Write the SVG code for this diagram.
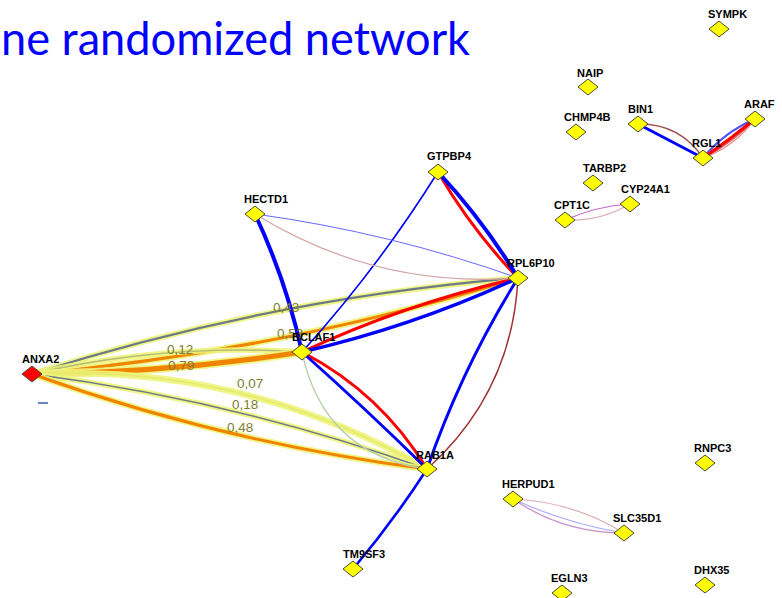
<svg xmlns="http://www.w3.org/2000/svg" xmlns:xlink="http://www.w3.org/1999/xlink" width="782" height="598" viewBox="0 0 782 598">
  <style>
    .title { font-family: Lato, "Open Sans", "Liberation Sans", sans-serif; font-size: 46px; fill: #0000ff; }
    .lbl { font-family: "Liberation Sans", Arial, sans-serif; font-weight: bold; font-size: 11px; fill: #000; }
    .elbl { font-family: "Liberation Sans", Arial, sans-serif; font-size: 13.5px; fill: #7e7e34; }
    .dia { fill: #ffff00; stroke: #4a4a30; stroke-width: 1; }
    .seed { fill: #ff0000; }
    .e { fill: none; stroke-linecap: round; }
    .halo { fill: none; stroke: #eef47a; stroke-opacity: 0.9; stroke-linecap: round; }
    .blue { stroke: #0000ff; }
    .red { stroke: #ff0000; }
    .orange { stroke: #f08400; }
    .gray { stroke: #6c7a88; }
  </style>
  <defs>
    <path id="dia" d="M-10,0 L0,-8 L10,0 L0,8 Z"/>
  </defs>

  <rect width="782" height="598" fill="#ffffff"/>

  <text class="title" x="1" y="55" textLength="469" lengthAdjust="spacingAndGlyphs">ne randomized network</text>

  <!-- connectors -->
  <g id="edges">
    <!-- ANXA2 weighted links: yellow halo with coloured core -->
    <path class="halo" stroke-width="6" d="M32,374 Q269.6,298.5 518,278"/>
    <path class="e gray" stroke-width="2.2" d="M32,374 Q269.6,298.5 518,278"/>
    <path class="halo" stroke-width="6.5" d="M32,374 Q280,351.5 518,278"/>
    <path class="e orange" stroke-width="3" d="M32,374 Q280,351.5 518,278"/>
    <path class="halo" stroke-width="5.5" d="M32,374 Q165.4,343.1 302,352"/>
    <path class="e" stroke="#b4bc78" stroke-width="1.5" d="M32,374 Q165.4,343.1 302,352"/>
    <path class="halo" stroke-width="8.5" d="M32,374 Q167.8,373 302,352"/>
    <path class="e orange" stroke-width="5" d="M32,374 Q167.8,373 302,352"/>
    <path class="halo" stroke-width="6.5" d="M32,374 Q243.5,363.2 427,469"/>
    <path class="e" stroke="#e6ec70" stroke-width="2" d="M32,374 Q243.5,363.2 427,469"/>
    <path class="halo" stroke-width="5.5" d="M32,374 Q234.6,400.1 427,469"/>
    <path class="e gray" stroke-width="1.6" d="M32,374 Q234.6,400.1 427,469"/>
    <path class="halo" stroke-width="6.5" d="M32,374 Q224.4,442.9 427,469"/>
    <path class="e orange" stroke-width="3" d="M32,374 Q224.4,442.9 427,469"/>

    <!-- BCLAF1 -->
    <path class="e blue" stroke-width="4" d="M255,214 Q286.1,280.4 302,352"/>
    <path class="e blue" stroke-width="1.6" d="M438,172 Q378,268 302,352"/>
    <path class="e red" stroke-width="3" d="M302,352 Q406.1,303.6 518,278"/>
    <path class="e blue" stroke-width="3.5" d="M302,352 Q413.9,326.4 518,278"/>
    <path class="e red" stroke-width="3" d="M302,352 Q380.9,393 427,469"/>
    <path class="e blue" stroke-width="3" d="M302,352 Q366,409 427,469"/>
    <path class="e" stroke="#b8d0a8" stroke-width="1.3" d="M302,352 Q323.5,454.3 427,469"/>

    <!-- RPL6P10 -->
    <path class="e red" stroke-width="3" d="M438,172 Q471.6,229.8 518,278"/>
    <path class="e blue" stroke-width="4" d="M438,172 Q483.6,220.8 518,278"/>
    <path class="e" stroke="#6868ff" stroke-width="1" d="M255,214 Q389.8,232.4 518,278"/>
    <path class="e" stroke="#d4a4a4" stroke-width="1.2" d="M255,214 Q376.1,288.8 518,278"/>
    <path class="e blue" stroke-width="3" d="M518,278 Q461.7,368.3 427,469"/>
    <path class="e" stroke="#a03030" stroke-width="1.5" d="M518,278 Q512.2,392.4 427,469"/>

    <!-- RAB1A - TM9SF3 -->
    <path class="e blue" stroke-width="2.6" d="M427,469 Q393.2,521.4 353,569"/>

    <!-- BIN1 / RGL1 / ARAF -->
    <path class="e blue" stroke-width="3" d="M638,124 L703,158"/>
    <path class="e" stroke="#a05050" stroke-width="1.3" d="M638,124 Q679.8,123.3 703,158"/>
    <path class="e" stroke="#5050ff" stroke-width="2" d="M703,158 Q724.2,132.1 755,119"/>
    <path class="e" stroke="#e08080" stroke-width="1.2" d="M703,158 Q735,146.5 755,119"/>
    <path class="e" stroke="#e05050" stroke-width="1.2" d="M703,158 Q732.6,143.3 755,119"/>
    <path class="e red" stroke-width="3" d="M703,158 Q730,139.5 755,119"/>

    <!-- CPT1C / CYP24A1 -->
    <path class="e" stroke="#c868c8" stroke-width="1.2" d="M565,220 Q596.1,206.2 630,204"/>
    <path class="e" stroke="#dcb0b0" stroke-width="1.2" d="M565,220 Q599.9,221.7 630,204"/>

    <!-- HERPUD1 / SLC35D1 -->
    <path class="e" stroke="#dcb0b0" stroke-width="1.2" d="M513,499 Q572.9,501.7 624,533"/>
    <path class="e" stroke="#a8a8ff" stroke-width="1.1" d="M513,499 Q566.2,523.6 624,533"/>
    <path class="e" stroke="#c890c8" stroke-width="1.3" d="M513,499 Q563.2,533.2 624,533"/>
  </g>

  <!-- edge weights -->
  <g id="edge-labels">
    <text class="elbl" x="273" y="312">0,43</text>
    <text class="elbl" x="277" y="338">0,53</text>
    <text class="elbl" x="167" y="354">0,12</text>
    <text class="elbl" x="168" y="370">0,79</text>
    <text class="elbl" x="237" y="388">0,07</text>
    <text class="elbl" x="232" y="409">0,18</text>
    <text class="elbl" x="227" y="432">0,48</text>
  </g>

  <!-- nodes -->
  <g id="ANXA2">
    <use href="#dia" class="dia seed" x="32" y="374"/>
    <text class="lbl" x="22" y="363">ANXA2</text>
    <line x1="38" y1="403" x2="48" y2="403" stroke="#6a84c4" stroke-width="2"/>
  </g>
  <g id="BCLAF1"><use href="#dia" class="dia" x="302" y="352"/><text class="lbl" x="292" y="341">BCLAF1</text></g>
  <g id="RPL6P10"><use href="#dia" class="dia" x="518" y="278"/><text class="lbl" x="507" y="267">RPL6P10</text></g>
  <g id="RAB1A"><use href="#dia" class="dia" x="427" y="469"/><text class="lbl" x="416" y="459">RAB1A</text></g>
  <g id="GTPBP4"><use href="#dia" class="dia" x="438" y="172"/><text class="lbl" x="427" y="160">GTPBP4</text></g>
  <g id="HECTD1"><use href="#dia" class="dia" x="255" y="214"/><text class="lbl" x="244" y="203">HECTD1</text></g>
  <g id="TM9SF3"><use href="#dia" class="dia" x="353" y="569"/><text class="lbl" x="343" y="558">TM9SF3</text></g>
  <g id="HERPUD1"><use href="#dia" class="dia" x="513" y="499"/><text class="lbl" x="502" y="488">HERPUD1</text></g>
  <g id="SLC35D1"><use href="#dia" class="dia" x="624" y="533"/><text class="lbl" x="613" y="522">SLC35D1</text></g>
  <g id="EGLN3"><use href="#dia" class="dia" x="562" y="593"/><text class="lbl" x="551" y="582">EGLN3</text></g>
  <g id="RNPC3"><use href="#dia" class="dia" x="705" y="463"/><text class="lbl" x="694" y="452">RNPC3</text></g>
  <g id="DHX35"><use href="#dia" class="dia" x="705" y="585"/><text class="lbl" x="694" y="574">DHX35</text></g>
  <g id="SYMPK"><use href="#dia" class="dia" x="719" y="29"/><text class="lbl" x="708" y="18">SYMPK</text></g>
  <g id="NAIP"><use href="#dia" class="dia" x="588" y="87"/><text class="lbl" x="577" y="77">NAIP</text></g>
  <g id="CHMP4B"><use href="#dia" class="dia" x="576" y="132"/><text class="lbl" x="564" y="121">CHMP4B</text></g>
  <g id="BIN1"><use href="#dia" class="dia" x="638" y="124"/><text class="lbl" x="628" y="113">BIN1</text></g>
  <g id="ARAF"><use href="#dia" class="dia" x="755" y="119"/><text class="lbl" x="744" y="108">ARAF</text></g>
  <g id="RGL1"><use href="#dia" class="dia" x="703" y="158"/><text class="lbl" x="692" y="147">RGL1</text></g>
  <g id="TARBP2"><use href="#dia" class="dia" x="593" y="183"/><text class="lbl" x="583" y="172">TARBP2</text></g>
  <g id="CYP24A1"><use href="#dia" class="dia" x="630" y="204"/><text class="lbl" x="621" y="193">CYP24A1</text></g>
  <g id="CPT1C"><use href="#dia" class="dia" x="565" y="220"/><text class="lbl" x="554" y="209">CPT1C</text></g>
</svg>
